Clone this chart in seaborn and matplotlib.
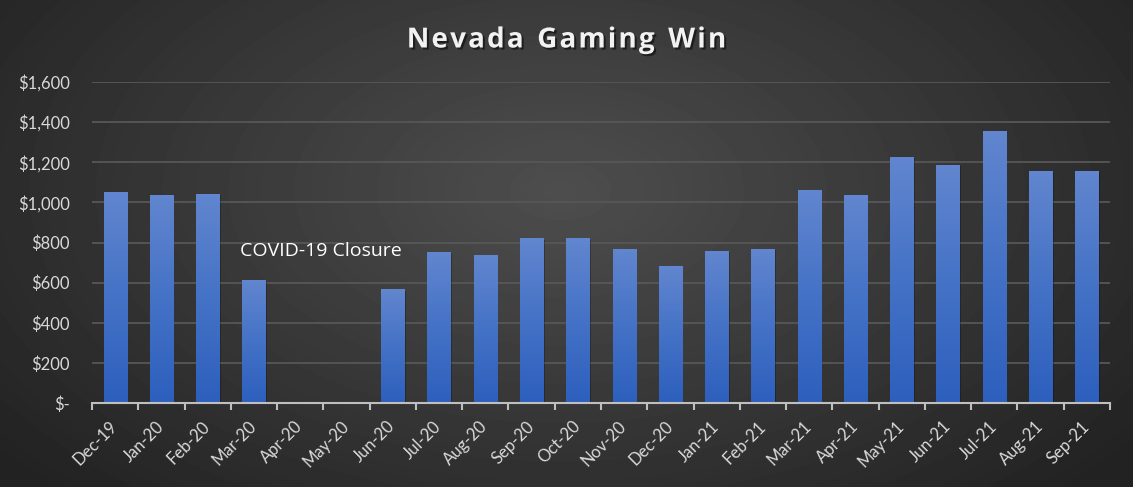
import numpy as np
import pandas as pd
import matplotlib
matplotlib.use("Agg")
import matplotlib.pyplot as plt
import matplotlib.patheffects as pe
from matplotlib.colors import LinearSegmentedColormap
from matplotlib.ticker import FuncFormatter, MultipleLocator
from matplotlib.transforms import offset_copy
import seaborn as sns

months = ["Dec-19", "Jan-20", "Feb-20", "Mar-20", "Apr-20", "May-20", "Jun-20",
          "Jul-20", "Aug-20", "Sep-20", "Oct-20", "Nov-20", "Dec-20", "Jan-21",
          "Feb-21", "Mar-21", "Apr-21", "May-21", "Jun-21", "Jul-21", "Aug-21", "Sep-21"]
gaming_win = [1053, 1038, 1043, 614, 3, 3, 566,
              754, 740, 820, 820, 770, 684, 758,
              768, 1062, 1038, 1228, 1188, 1357, 1158, 1158]

title = "Nevada Gaming Win"
note = "COVID-19 Closure"

df = pd.DataFrame({"month": months, "win": gaming_win})

sns.set_theme(style="dark")
plt.rcParams["font.family"] = ["Lato", "DejaVu Sans"]

W, H = 1133, 487
fig = plt.figure(figsize=(W / 100, H / 100), dpi=100)

# dark radial background like the Excel chart style
bg = fig.add_axes([0, 0, 1, 1], zorder=-10)
yy, xx = np.mgrid[0:H, 0:W]
r = np.sqrt(((xx - 560) / 720.0) ** 2 + ((yy - 190) / 420.0) ** 2)
r = np.clip(r, 0, 1)
shade = 0.305 - (0.305 - 0.135) * r
bg.imshow(shade, cmap="gray", vmin=0, vmax=1, aspect="auto",
          extent=[0, 1, 0, 1], interpolation="bilinear")
bg.set_axis_off()

ax = fig.add_axes([92 / W, 1 - 403 / H, (1110 - 92) / W, (403 - 82) / H])
ax.patch.set_alpha(0)

sns.barplot(data=df, x="month", y="win", ax=ax, width=0.5, color="#4472c4",
            saturation=1, zorder=3)

bar_cmap = LinearSegmentedColormap.from_list("bars", ["#2d5fbd", "#4472c6", "#6286cf"])
grad = np.linspace(0, 1, 256).reshape(-1, 1)
for patch in ax.patches:
    x0, y0 = patch.get_x(), patch.get_y()
    w, h = patch.get_width(), patch.get_height()
    patch.set_edgecolor("none")
    patch.set_path_effects([pe.SimplePatchShadow(offset=(1, -1), shadow_rgbFace="black", alpha=0.25),
                            pe.Normal()])
    img = ax.imshow(grad, extent=[x0, x0 + w, y0, y0 + h], origin="lower",
                    cmap=bar_cmap, aspect="auto", zorder=4)
    img.set_clip_path(patch)

ax.set_xlim(-0.5, len(months) - 0.5)
ax.set_ylim(0, 1600)
ax.yaxis.set_major_locator(MultipleLocator(200))
ax.yaxis.set_major_formatter(FuncFormatter(lambda v, p: "$-" if v == 0 else f"${v:,.0f}"))
ax.yaxis.grid(True, color="#575757", lw=1.3, zorder=0)
ax.xaxis.grid(False)
ax.set_xlabel("")
ax.set_ylabel("")

for s in ["left", "right", "top"]:
    ax.spines[s].set_visible(False)
ax.spines["bottom"].set_color("#bfbfbf")
ax.spines["bottom"].set_linewidth(1.5)
ax.spines["bottom"].set_zorder(5)

ax.set_xticks(np.arange(-0.5, len(months), 1), minor=True)
ax.tick_params(axis="x", which="minor", length=5, width=1.5, color="#bfbfbf", direction="out", bottom=True)
ax.tick_params(axis="x", which="major", length=0, pad=15, labelsize=12, labelcolor="#d9d9d9")
ax.tick_params(axis="y", length=0, pad=16, labelsize=12, labelcolor="#d9d9d9")
plt.setp(ax.get_xticklabels(), rotation=45, ha="right", va="center", rotation_mode="anchor")

ax.text(4.45, 757, note, ha="center", va="center", fontsize=14, color="white",
        family=["Open Sans", "DejaVu Sans"], zorder=6)

# title with letter spacing, placed char by char
renderer = fig.canvas.get_renderer()
title_kw = dict(fontsize=20, fontweight="bold", color="#f2f2f2", family=["Open Sans", "DejaVu Sans"],
                va="center", ha="left",
                path_effects=[pe.withSimplePatchShadow(offset=(1.5, -1.5), shadow_rgbFace="black", alpha=0.5)])
spacing = 2.2
widths = []
for ch in title:
    t = fig.text(0, 0, ch if ch != " " else "n", **title_kw)
    wpx = t.get_window_extent(renderer).width
    widths.append(wpx * 0.5 if ch == " " else wpx)
    t.remove()
total = sum(widths) + spacing * (len(title) - 1)
xpos = -total / 2
for ch, wpx in zip(title, widths):
    if ch != " ":
        tr = offset_copy(fig.transFigure, fig=fig, x=xpos * 72 / fig.dpi, y=0, units="points")
        fig.text(0.5, 1 - 40 / H, ch, transform=tr, **title_kw)
    xpos += wpx + spacing

fig.savefig("out.png", dpi=100)
